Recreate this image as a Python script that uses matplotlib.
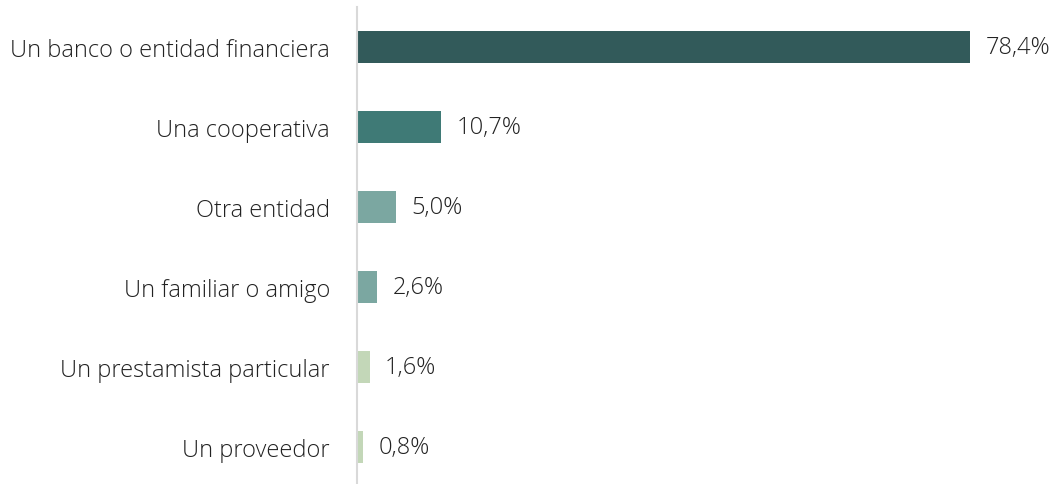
# Horizontal bar chart: source of credit
import matplotlib.pyplot as plt

categories = ['Un banco o entidad financiera', 'Una cooperativa', 'Otra entidad',
              'Un familiar o amigo', 'Un prestamista particular', 'Un proveedor']
values = [78.4, 10.7, 5.0, 2.6, 1.6, 0.8]
labels = ['78,4%', '10,7%', '5,0%', '2,6%', '1,6%', '0,8%']
colors = ['#325A5A', '#3F7A76', '#7BA7A1', '#7BA7A1', '#C3D7B8', '#C3D7B8']

plt.rcParams['font.family'] = ['Open Sans', 'DejaVu Sans']

fig = plt.figure(figsize=(10.57, 4.85), dpi=100)
ax = fig.add_axes([357 / 1057, 0, (1050 - 357) / 1057, 1 - 8 / 485])

y = range(len(categories))
ax.barh(y, values, height=0.4, color=colors)

for i, (v, lab) in enumerate(zip(values, labels)):
    ax.text(v + 2.0, i, lab, va='center', ha='left', fontsize=17,
            color='#222222', fontweight='light')

ax.set_yticks(list(y))
ax.set_yticklabels(categories, fontsize=17, color='#222222', fontweight='light')
ax.tick_params(axis='y', length=0, pad=19.5)
ax.set_xticks([])
ax.set_xlim(0, 88.6)
ax.set_ylim(5.46, -0.5)

for s in ['top', 'right', 'bottom']:
    ax.spines[s].set_visible(False)
ax.spines['left'].set_color('#D9D9D9')
ax.spines['left'].set_linewidth(1.5)

plt.savefig('out.png', dpi=100)
